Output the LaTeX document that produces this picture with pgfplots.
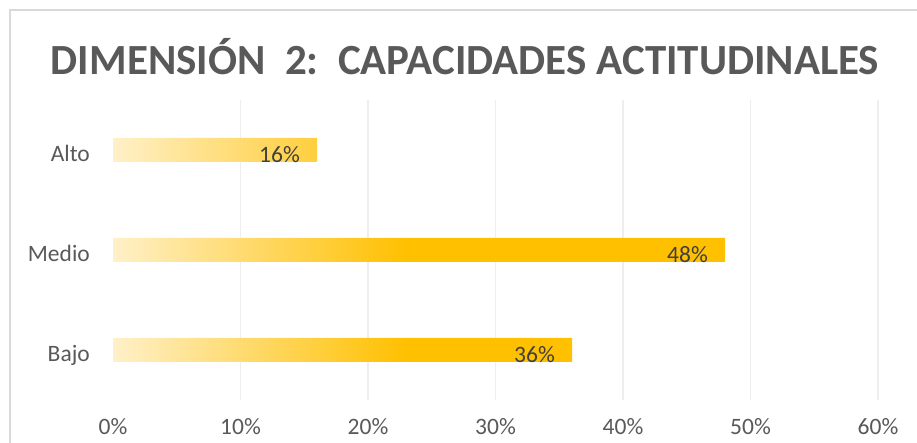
\documentclass[border=0pt]{standalone}
\usepackage{pgfplots}
\pgfplotsset{compat=1.18}
\usepackage{fontspec}
\setmainfont{Carlito}

\definecolor{gold}{HTML}{FFC000}
\definecolor{pale}{HTML}{FFF0C8}
\definecolor{txt}{HTML}{595959}
\definecolor{lbl}{HTML}{404040}
\definecolor{gridc}{HTML}{EEEEEE}
\definecolor{framec}{HTML}{D9D9D9}
% gradient over the first half of each bar, then solid
\pgfdeclarehorizontalshading{barshade}{100bp}{color(0bp)=(pale); color(25bp)=(pale); color(49bp)=(gold); color(100bp)=(gold)}

\begin{document}
\begin{tikzpicture}
\path[use as bounding box] (0pt,0pt) rectangle (917pt,443pt);
\draw[framec, line width=1.5pt] (10pt,-10pt) -- (10pt,433pt) -- (930pt,433pt);
\node[font=\fontsize{43}{50}\selectfont\bfseries, text=txt, anchor=base]
  at (465pt,368pt) {DIMENSIÓN\ \ 2:\ \ CAPACIDADES ACTITUDINALES};
\begin{axis}[
    at={(113pt,43pt)}, anchor=south west,
    scale only axis, width=765pt, height=300pt,
    xmin=0, xmax=60, ymin=-0.5, ymax=2.5,
    xtick={10,20,30,40,50,60},
    xticklabels={10\%,20\%,30\%,40\%,50\%,60\%},
    extra x ticks={0}, extra x tick labels={0\%},
    extra x tick style={grid=none},
    ytick={0,1,2}, yticklabels={Bajo,Medio,Alto},
    xmajorgrids, grid style={gridc, line width=1.5pt},
    axis line style={draw=none}, major tick length=0pt,
    tick label style={font=\fontsize{23.5}{28}\selectfont, text=txt, inner sep=0pt},
    xticklabel style={anchor=base, yshift=-35pt},
    yticklabel style={anchor=base east, xshift=-23pt, yshift=-11.5pt},
]
\addplot[xbar, bar width=24pt, draw=none, shade, shading=barshade,
    point meta=x,
    nodes near coords={\pgfmathprintnumber[assume math mode=true]{\pgfplotspointmeta}\%},
    nodes near coords align={anchor=base east},
    every node near coord/.append style={font=\fontsize{23.5}{28}\selectfont, text=lbl,
        inner sep=0pt, anchor=base east, xshift=-17pt, yshift=-12.5pt}]
  coordinates {(36,0) (48,1) (16,2)};
\end{axis}
\end{tikzpicture}
\end{document}
